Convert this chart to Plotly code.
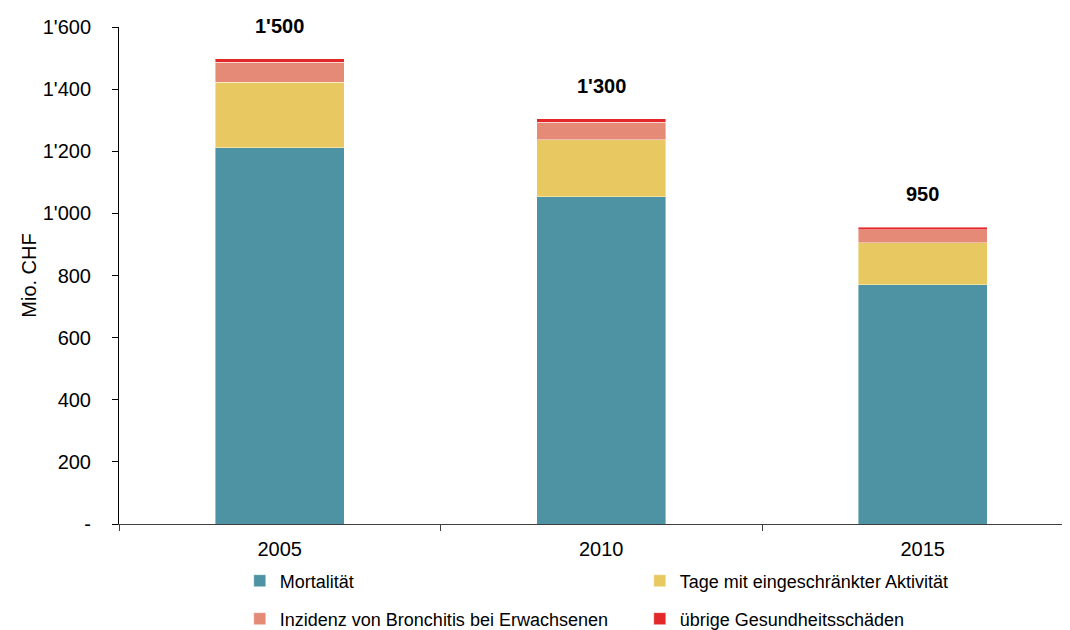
import plotly.graph_objects as go

years = ["2005", "2010", "2015"]
mortalitaet = [1212, 1054, 770]
tage = [210, 183, 136]
bronchitis = [64, 57, 41]
uebrige = [11, 10, 8]

series_names = ["Mortalität", "Tage mit eingeschränkter Aktivität",
                "Inzidenz von Bronchitis bei Erwachsenen", "übrige Gesundheitsschäden"]
series_values = [mortalitaet, tage, bronchitis, uebrige]
colors = ["#4D93A3", "#E8C860", "#E68A78", "#E3282A"]
legend_ids = ["legend", "legend", "legend2", "legend2"]

y_tickvals = [0, 200, 400, 600, 800, 1000, 1200, 1400, 1600]
y_ticktext = ["-", "200", "400", "600", "800", "1'000", "1'200", "1'400", "1'600"]

FONT = "Liberation Sans, Arial, sans-serif"

fig = go.Figure()
for name, vals, col, lg in zip(series_names, series_values, colors, legend_ids):
    fig.add_trace(go.Bar(
        x=years, y=vals, name=name, width=0.4,
        marker=dict(color=col, line=dict(color="rgba(255,255,255,0.7)", width=0.6)),
        legend=lg,
    ))

totals = [sum(v) for v in zip(*series_values)]

def fmt(v):
    r = int(round(v / 50.0) * 50)
    return f"{r:,}".replace(",", "'")

annotations = []
for i, tot in enumerate(totals):
    annotations.append(dict(
        xref="x", yref="y", x=i, y=tot, text="<b>" + fmt(tot) + "</b>",
        showarrow=False, yshift=33, yanchor="middle", xanchor="center",
        font=dict(family=FONT, size=20, color="#000000")))

# page body has an 8px default margin, so the figure is 8px smaller than the window
fig.update_layout(
    width=1062, height=622,
    margin=dict(l=111, r=0, t=19, b=106, autoexpand=False),
    barmode="stack",
    plot_bgcolor="white", paper_bgcolor="white",
    font=dict(family=FONT, size=20, color="#000"),
    annotations=annotations,
    legend=dict(orientation="h", x=0.127, xanchor="left", y=-0.1147, yanchor="middle",
                entrywidth=355, entrywidthmode="pixels", traceorder="normal",
                font=dict(family=FONT, size=18, color="#000"), itemclick=False),
    legend2=dict(orientation="h", x=0.127, xanchor="left", y=-0.191, yanchor="middle",
                 entrywidth=355, entrywidthmode="pixels", traceorder="normal",
                 font=dict(family=FONT, size=18, color="#000"), itemclick=False),
    xaxis=dict(type="category", range=[-0.5, 2.458], showline=True, linecolor="#404040",
               linewidth=1, ticks="outside", tickson="boundaries", ticklen=6,
               tickcolor="#404040", showgrid=False, zeroline=False, automargin=False,
               ticklabelstandoff=7,
               tickfont=dict(family=FONT, size=20, color="#000")),
    yaxis=dict(range=[0, 1600], tickvals=y_tickvals, ticktext=y_ticktext,
               showline=True, linecolor="#000", linewidth=1, ticks="outside",
               ticklen=6, tickcolor="#000", showgrid=False, zeroline=False,
               ticklabelstandoff=17, automargin=False,
               tickfont=dict(family=FONT, size=20, color="#000"),
               title=dict(text="Mio. CHF", standoff=0,
                          font=dict(family=FONT, size=20, color="#000"))),
)

fig.write_html("out.html")
